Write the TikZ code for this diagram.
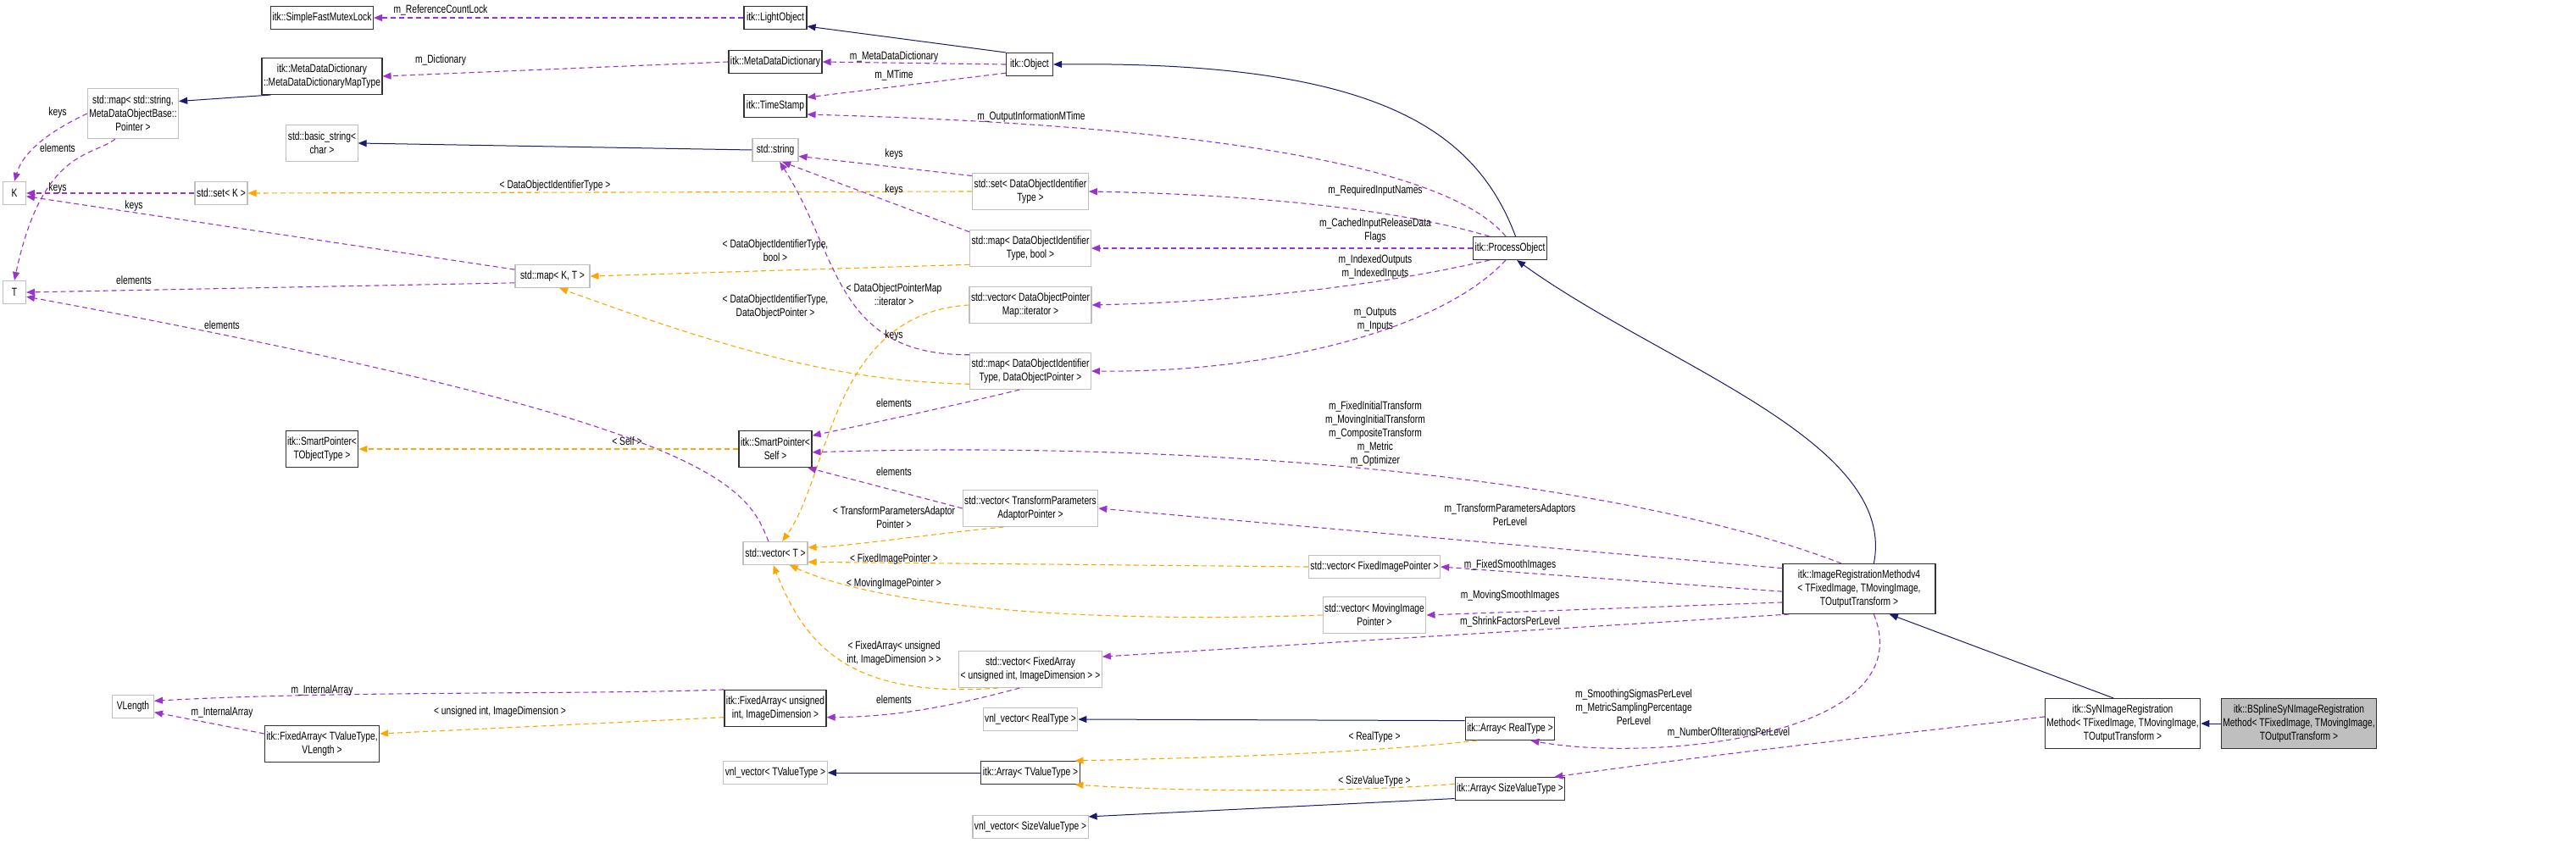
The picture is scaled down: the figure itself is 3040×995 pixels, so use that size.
\documentclass[tikz,border=0pt]{standalone}
\usepackage{fontspec}
\setmainfont[FakeStretch=0.76]{Liberation Sans}
\usetikzlibrary{arrows.meta}
\definecolor{navy}{HTML}{191970}
\definecolor{purp}{HTML}{9A32CD}
\definecolor{orng}{HTML}{FFA500}
\definecolor{gbox}{HTML}{BFBFBF}
\begin{document}
\begin{tikzpicture}[x=1pt,y=-1pt,
  every node/.style={font=\fontsize{13.5}{16}\selectfont, align=center},
  box/.style={draw=black!80, line width=1.1pt, fill=white, inner sep=2pt},
  gbx/.style={draw=gbox, line width=1.1pt, fill=white, inner sep=2pt},
  lbl/.style={inner sep=1pt},
  tip/.style={-{Triangle[length=10pt,width=8pt]}},
  inh/.style={tip, draw=navy, line width=1pt},
  use/.style={tip, draw=purp, line width=1.1pt, dash pattern=on 6pt off 4pt},
  tpl/.style={tip, draw=orng, line width=1.1pt, dash pattern=on 6pt off 4pt},
]
\useasboundingbox (0,0) rectangle (3040,995);
% nodes
\node[box, minimum width=115, minimum height=27] (sfml) at (380,21) {itk::SimpleFastMutexLock};
\node[box, minimum width=135, minimum height=43] (mdmt) at (380,90) {itk::MetaDataDictionary\\::MetaDataDictionaryMapType};
\node[gbx, minimum width=105, minimum height=59] (smap) at (157,134) {std::map< std::string,\\MetaDataObjectBase::\\Pointer >};
\node[gbx, minimum width=83, minimum height=43] (bstr) at (380,169) {std::basic\_string<\\char >};
\node[gbx, minimum width=27, minimum height=27] (K) at (17,228) {K};
\node[gbx, minimum width=62, minimum height=27] (sk) at (261,228) {std::set< K >};
\node[gbx, minimum width=27, minimum height=27] (T) at (17,345) {T};
\node[gbx, minimum width=88, minimum height=27] (mkt) at (652,326) {std::map< K, T >};
\node[box, minimum width=74, minimum height=27] (lo) at (915,21) {itk::LightObject};
\node[box, minimum width=108, minimum height=27] (mdd) at (915,73) {itk::MetaDataDictionary};
\node[box, minimum width=74, minimum height=27] (ts) at (915,125) {itk::TimeStamp};
\node[gbx, minimum width=54, minimum height=27] (str) at (915,177) {std::string};
\node[box, minimum width=55, minimum height=27] (obj) at (1215,76) {itk::Object};
\node[gbx, minimum width=132, minimum height=43] (sdit) at (1216,226) {std::set< DataObjectIdentifier\\Type >};
\node[gbx, minimum width=138, minimum height=43] (mb) at (1216,293) {std::map< DataObjectIdentifier\\Type, bool >};
\node[gbx, minimum width=138, minimum height=43] (vmi) at (1216,360) {std::vector< DataObjectPointer\\Map::iterator >};
\node[gbx, minimum width=138, minimum height=43] (mdp) at (1216,438) {std::map< DataObjectIdentifier\\Type, DataObjectPointer >};
\node[box, minimum width=86, minimum height=27] (po) at (1782,293) {itk::ProcessObject};
\node[box, minimum width=85, minimum height=43] (spt) at (380,530) {itk::SmartPointer<\\TObjectType >};
\node[gbx, minimum width=49, minimum height=27] (vl) at (157,834) {VLength};
\node[box, minimum width=127, minimum height=43] (fat) at (380,878) {itk::FixedArray< TValueType,\\VLength >};
\node[box, minimum width=86, minimum height=43] (sps) at (915,530) {itk::SmartPointer<\\Self >};
\node[gbx, minimum width=76, minimum height=27] (vt) at (915,653) {std::vector< T >};
\node[gbx, minimum width=150, minimum height=43] (vtpa) at (1216,600) {std::vector< TransformParameters\\AdaptorPointer >};
\node[box, minimum width=116, minimum height=43] (fa) at (915,836) {itk::FixedArray< unsigned\\int, ImageDimension >};
\node[gbx, minimum width=156, minimum height=43] (vfa) at (1216,790) {std::vector< FixedArray\\< unsigned int, ImageDimension > >};
\node[gbx, minimum width=105, minimum height=27] (vr) at (1216,849) {vnl\_vector< RealType >};
\node[gbx, minimum width=115, minimum height=27] (vtv) at (915,912) {vnl\_vector< TValueType >};
\node[box, minimum width=109, minimum height=27] (at) at (1216,912) {itk::Array< TValueType >};
\node[gbx, minimum width=125, minimum height=27] (vs) at (1216,976) {vnl\_vector< SizeValueType >};
\node[gbx, minimum width=145, minimum height=27] (vfip) at (1622,669) {std::vector< FixedImagePointer >};
\node[gbx, minimum width=119, minimum height=43] (vmip) at (1622,726) {std::vector< MovingImage\\Pointer >};
\node[box, minimum width=100, minimum height=27] (arr) at (1782,860) {itk::Array< RealType >};
\node[box, minimum width=120, minimum height=27] (asz) at (1782,931) {itk::Array< SizeValueType >};
\node[box, minimum width=180, minimum height=59] (irm) at (2194,695) {itk::ImageRegistrationMethodv4\\< TFixedImage, TMovingImage,\\TOutputTransform >};
\node[box, minimum width=172, minimum height=59] (syn) at (2505,854) {itk::SyNImageRegistration\\Method< TFixedImage, TMovingImage,\\TOutputTransform >};
\node[box, fill=gbox, minimum width=172, minimum height=59] (bsp) at (2713,854) {itk::BSplineSyNImageRegistration\\Method< TFixedImage, TMovingImage,\\TOutputTransform >};
% edges
\draw[use] (lo.west) -- (sfml.east);
\draw[inh] (obj.north west) -- (lo.-15);
\draw[use] (obj.west) -- (mdd.east);
\draw[use] (obj.200) -- (ts.15);
\draw[use] (mdd.west) -- (mdmt.east);
\draw[inh] (mdmt.200) -- (smap.15);
\draw[use] (smap.west) .. controls (80,145) and (30,170) .. (K.north);
\draw[use] (smap.235) .. controls (110,185) and (50,175) .. (T.north);
\draw[use] (sk.west) -- (K.east);
\draw[use] (mkt.170) -- (K.-15);
\draw[use] (mkt.190) -- (T.east);
\draw[use] (vt.120) .. controls (880,570) and (840,500) .. (T.-20);
\draw[inh] (str.west) -- (bstr.east);
\draw[inh] (po.65) .. controls (1740,150) and (1620,72) .. (obj.east);
\draw[use] (po.110) .. controls (1720,210) and (1500,150) .. (ts.-15);
\draw[use] (po.150) .. controls (1660,250) and (1500,230) .. (sdit.east);
\draw[use] (po.west) -- (mb.east);
\draw[use] (po.210) .. controls (1660,330) and (1500,355) .. (vmi.east);
\draw[use] (po.-110) .. controls (1700,390) and (1500,440) .. (mdp.east);
\draw[use] (sdit.165) -- (str.-15);
\draw[tpl] (sdit.west) -- (sk.east);
\draw[use] (mb.165) -- (str.-60);
\draw[tpl] (mb.195) -- (mkt.east);
\draw[use] (mdp.165) .. controls (985,420) and (990,300) .. (str.-70);
\draw[tpl] (mdp.192) .. controls (1000,450) and (880,420) .. (mkt.-60);
\draw[use] (mdp.-120) .. controls (1120,480) and (1050,495) .. (sps.20);
\draw[tpl] (vmi.west) .. controls (980,370) and (980,560) .. (vt.60);
\draw[tpl] (sps.west) -- (spt.east);
\draw[inh] (irm.60) .. controls (2240,520) and (1960,430) .. (po.-60);
\draw[use] (irm.125) .. controls (1900,560) and (1400,520) .. (sps.-5);
\draw[use] (irm.165) -- (vtpa.east);
\draw[use] (irm.182) -- (vfip.east);
\draw[use] (irm.190) -- (vmip.east);
\draw[use] (irm.200) -- (vfa.10);
\draw[use] (irm.-60) .. controls (2270,870) and (1950,900) .. (arr.-30);
\draw[use] (vtpa.west) -- (sps.-30);
\draw[tpl] (vtpa.-145) .. controls (1100,630) and (1000,645) .. (vt.10);
\draw[tpl] (vfip.west) -- (vt.-15);
\draw[tpl] (vmip.west) .. controls (1300,735) and (1050,720) .. (vt.-40);
\draw[tpl] (vfa.-150) .. controls (1000,825) and (950,760) .. (vt.-100);
\draw[use] (vfa.-120) .. controls (1100,840) and (1040,846) .. (fa.-10);
\draw[use] (fa.160) .. controls (700,820) and (400,815) .. (vl.15);
\draw[use] (fat.170) -- (vl.-15);
\draw[tpl] (fa.190) -- (fat.10);
\draw[inh] (arr.170) -- (vr.east);
\draw[tpl] (arr.-160) .. controls (1600,890) and (1400,895) .. (at.15);
\draw[tpl] (asz.175) .. controls (1600,935) and (1400,935) .. (at.-15);
\draw[inh] (asz.190) -- (vs.10);
\draw[inh] (at.west) -- (vtv.east);
\draw[inh] (syn.110) -- (irm.-40);
\draw[use] (syn.175) .. controls (2300,860) and (2100,880) .. (asz.15);
\draw[inh] (bsp.west) -- (syn.east);
% labels
\node[lbl] (l1) at (520,12) {m\_ReferenceCountLock};
\node[lbl] (l2) at (1055,67) {m\_MetaDataDictionary};
\node[lbl] (l3) at (1055,89) {m\_MTime};
\node[lbl] (l4) at (520,71) {m\_Dictionary};
\node[lbl] (l5) at (68,133) {keys};
\node[lbl] (l6) at (68,175) {elements};
\node[lbl] (l7) at (68,222) {keys};
\node[lbl] (l8) at (158,243) {keys};
\node[lbl] (l9) at (158,331) {elements};
\node[lbl] (l10) at (262,384) {elements};
\node[lbl] (l11) at (1217,138) {m\_OutputInformationMTime};
\node[lbl] (l12) at (1623,225) {m\_RequiredInputNames};
\node[lbl] (l13) at (1623,272) {m\_CachedInputReleaseData\\Flags};
\node[lbl] (l14) at (1623,315) {m\_IndexedOutputs\\m\_IndexedInputs};
\node[lbl] (l15) at (1623,377) {m\_Outputs\\m\_Inputs};
\node[lbl] (l16) at (1055,182) {keys};
\node[lbl] (l17) at (655,219) {< DataObjectIdentifierType >};
\node[lbl] (l18) at (1055,224) {keys};
\node[lbl] (l19) at (915,296) {< DataObjectIdentifierType,\\bool >};
\node[lbl] (l20) at (1055,396) {keys};
\node[lbl] (l21) at (915,362) {< DataObjectIdentifierType,\\DataObjectPointer >};
\node[lbl] (l22) at (1055,476) {elements};
\node[lbl] (l23) at (1055,348) {< DataObjectPointerMap\\::iterator >};
\node[lbl] (l24) at (740,521) {< Self >};
\node[lbl] (l25) at (1623,512) {m\_FixedInitialTransform\\m\_MovingInitialTransform\\m\_CompositeTransform\\m\_Metric\\m\_Optimizer};
\node[lbl] (l26) at (1782,608) {m\_TransformParametersAdaptors\\PerLevel};
\node[lbl] (l27) at (1782,667) {m\_FixedSmoothImages};
\node[lbl] (l28) at (1782,703) {m\_MovingSmoothImages};
\node[lbl] (l29) at (1782,734) {m\_ShrinkFactorsPerLevel};
\node[lbl] (l30) at (1928,835) {m\_SmoothingSigmasPerLevel\\m\_MetricSamplingPercentage\\PerLevel};
\node[lbl] (l31) at (1055,557) {elements};
\node[lbl] (l32) at (1055,611) {< TransformParametersAdaptor\\Pointer >};
\node[lbl] (l33) at (1055,660) {< FixedImagePointer >};
\node[lbl] (l34) at (1055,689) {< MovingImagePointer >};
\node[lbl] (l35) at (1055,771) {< FixedArray< unsigned\\int, ImageDimension > >};
\node[lbl] (l36) at (1055,826) {elements};
\node[lbl] (l37) at (380,815) {m\_InternalArray};
\node[lbl] (l38) at (262,841) {m\_InternalArray};
\node[lbl] (l39) at (590,840) {< unsigned int, ImageDimension >};
\node[lbl] (l40) at (1622,870) {< RealType >};
\node[lbl] (l41) at (1622,922) {< SizeValueType >};
\node[lbl] (l42) at (2040,865) {m\_NumberOfIterationsPerLevel};
\end{tikzpicture}
\end{document}
